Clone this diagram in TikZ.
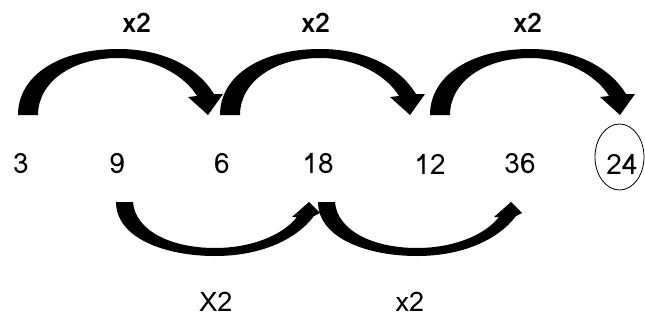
\documentclass[tikz,border=0pt]{standalone}
\usepackage{fontspec}
\setmainfont{Loma}
\begin{document}
\begin{tikzpicture}[x=1pt,y=-1pt,
  num/.style={font=\fontsize{28}{28}\selectfont, inner sep=0pt, anchor=center},
  toplab/.style={font=\bfseries\fontsize{27}{27}\selectfont, inner sep=0pt},
  botlab/.style={font=\fontsize{27}{27}\selectfont, inner sep=0pt},
  arrowfill/.style={fill=black, draw=none}]
\useasboundingbox (0,0) rectangle (645,324);
% numbers
\node[num] (n3) at (21,164) {3};
\node[num] (n9) at (117,164) {9};
\node[num] (n6) at (222,164) {6};
\node[num] (n18) at (318,164) {18};
\node[num] (n12) at (430,164) {12};
\node[num] (n36) at (520,164) {36};
\node[num] (n24) at (622,164) {24};
\draw[line width=0.8pt] (619.5,157) ellipse [x radius=24.5, y radius=33];
% top labels
\node[toplab] (t1) at (137,23) {x2};
\node[toplab] (t2) at (316,23) {x2};
\node[toplab] (t3) at (528,23) {x2};
% bottom labels
\node[botlab] (b1) at (216,302) {X2};
\node[botlab] (b2) at (410,302) {x2};
% top curved arrows
\foreach \dx in {0,202,412}{
\fill[arrowfill, xshift=\dx] (38,115) -- (18,115)
  .. controls (18,75) and (60,49) .. (118,49)
  .. controls (165,49) and (198,68) .. (214,94)
  -- (223,94) -- (208,115) -- (188,97) -- (197,96)
  .. controls (185,76) and (155,58) .. (118,58)
  .. controls (72,58) and (38,82) .. (38,115) -- cycle;
}
% bottom curved arrows
\foreach \dx in {0,202}{
\fill[arrowfill, xshift=\dx] (116,202) -- (133,202)
  .. controls (135,230) and (170,248) .. (215,248)
  .. controls (250,248) and (282,236) .. (297,217)
  -- (292,217) -- (309,202) -- (320,213) -- (314,216)
  .. controls (296,240) and (260,256) .. (215,256)
  .. controls (165,256) and (116,238) .. (116,202) -- cycle;
}
\end{tikzpicture}
\end{document}
